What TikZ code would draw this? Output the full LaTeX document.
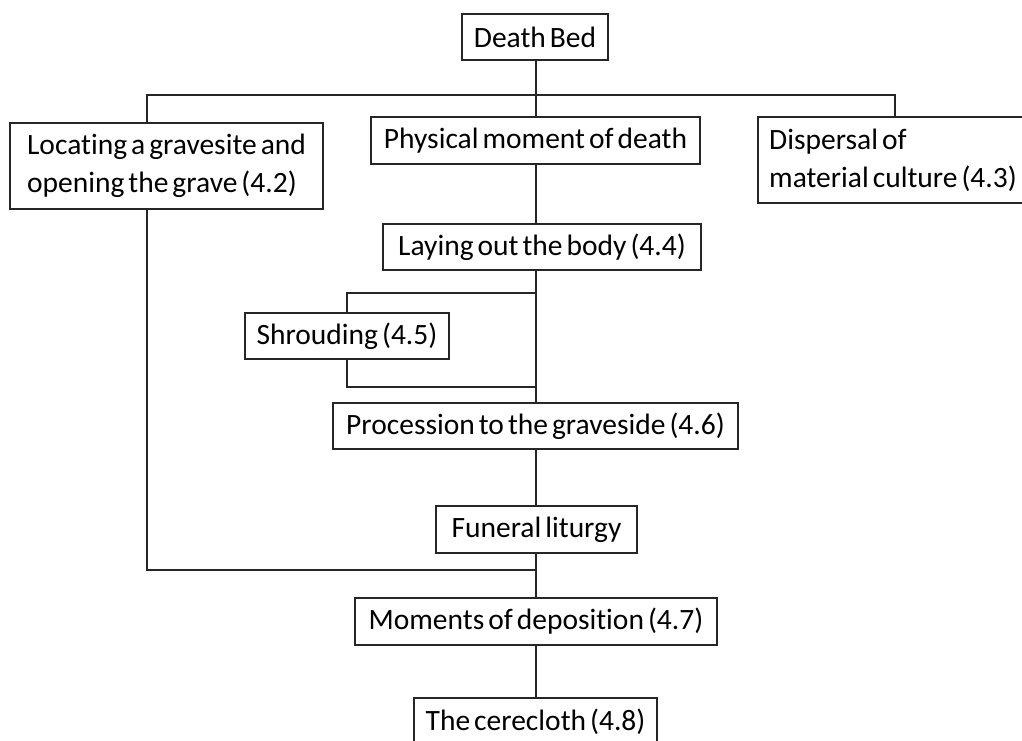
\documentclass[tikz,border=0pt]{standalone}
\usepackage{fontspec}
\setmainfont{Carlito}[Ligatures=NoCommon,WordSpace=0.6]
\begin{document}
\begin{tikzpicture}[x=1pt,y=-1pt,
  box/.style={draw=black!85,line width=1.4pt,inner sep=0pt,align=center,
    font=\fontsize{29.5pt}{38pt}\selectfont,text=black},
  multibox/.style={box,align=left},
  conn/.style={draw=black!85,line width=1.4pt}]
\useasboundingbox (0,0) rectangle (1022,740);
% boxes
\node[box,minimum width=146pt,minimum height=46pt] (death) at (535,37) {Death Bed};
\node[box,minimum width=329pt,minimum height=47pt] (phys) at (535.5,140.5) {Physical moment of death};
\node[multibox,minimum width=313pt,minimum height=86pt] (loc) at (166.5,166) {Locating a gravesite and\\opening the grave (4.2)};
\node[multibox,minimum width=270pt,minimum height=86pt] (disp) at (893,160) {Dispersal of\\material culture (4.3)};
\node[box,minimum width=318pt,minimum height=46pt] (lay) at (542,247) {Laying out the body (4.4)};
\node[box,minimum width=204pt,minimum height=46pt] (shr) at (347,336) {Shrouding (4.5)};
\node[box,minimum width=405pt,minimum height=46pt] (proc) at (535.5,426) {Procession to the graveside (4.6)};
\node[box,minimum width=201pt,minimum height=47pt] (fun) at (536.5,529.5) {Funeral liturgy};
\node[box,minimum width=362pt,minimum height=47pt] (mom) at (536,621.5) {Moments of deposition (4.7)};
\node[box,minimum width=243pt,minimum height=47pt] (cer) at (535.5,721.5) {The cerecloth (4.8)};
% helper coordinates
\coordinate (sp) at (536,95);
\coordinate (lx) at (147,95);
\coordinate (dx) at (895,95);
\coordinate (b1) at (536,293);
\coordinate (b2) at (536,387);
\coordinate (j) at (536,570);
% connectors
\draw[conn] (death.south -| sp) -- (phys.north -| sp);
\draw[conn] (loc.north -| lx) -- (lx) -- (dx) -- (disp.north -| dx);
\draw[conn] (phys.south -| sp) -- (lay.north -| sp);
\draw[conn] (lay.south -| sp) -- (proc.north -| sp);
\draw[conn] (b1) -- (b1 -| shr) -- (shr.north);
\draw[conn] (shr.south) -- (b2 -| shr) -- (b2);
\draw[conn] (proc.south -| sp) -- (fun.north -| sp);
\draw[conn] (fun.south -| sp) -- (mom.north -| sp);
\draw[conn] (loc.south -| lx) -- (j -| lx) -- (j);
\draw[conn] (mom.south -| sp) -- (cer.north -| sp);
\end{tikzpicture}
\end{document}
